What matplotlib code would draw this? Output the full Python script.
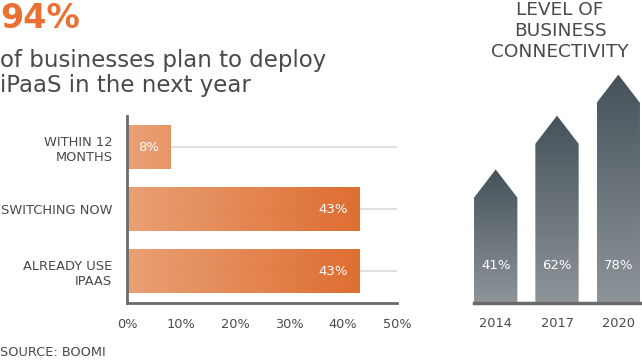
import matplotlib
matplotlib.use("Agg")
import matplotlib.pyplot as plt
import numpy as np
from matplotlib.colors import LinearSegmentedColormap
from matplotlib.patches import Polygon

# ---- data ----
headline = "94%"
subtitle = "of businesses plan to deploy\niPaaS in the next year"
bar_categories = ["ALREADY USE\nIPAAS", "SWITCHING NOW", "WITHIN 12\nMONTHS"]
bar_values = [43, 43, 8]
bar_ticks = [0, 10, 20, 30, 40, 50]
right_title = "LEVEL OF\nBUSINESS\nCONNECTIVITY"
years = ["2014", "2017", "2020"]
connectivity = [41, 62, 78]
source = "SOURCE: BOOMI"

TXT = "#4a4a4a"
ORANGE = "#EA7034"

fig = plt.figure(figsize=(6.42, 3.6), dpi=100)
fig.patch.set_facecolor("white")

# headline texts
fig.text(0.0, 1 - 27.5/360, headline, fontsize=24, fontweight="bold", color=ORANGE,
         ha="left", va="baseline")
fig.text(0.0, 1 - 73/360, subtitle, fontsize=16.5, color=TXT, ha="left", va="center",
         linespacing=1.12)
fig.text(0.0, 1 - 353/360, source, fontsize=9.3, color=TXT, ha="left", va="center")

# ---- left: horizontal bars ----
ax = fig.add_axes([127/642, (360-302.7)/360, 270/642, (302.7-116)/360])
ypos = np.arange(len(bar_categories))
cmap_o = LinearSegmentedColormap.from_list("o", ["#E99B6E", "#DD6626"])
vmax = max(bar_values)
for y in ypos:
    ax.axhline(y, color="#e0e0e0", lw=1.5, zorder=1)
bh = 0.70
for y, v in zip(ypos, bar_values):
    grad = np.linspace(0, v / vmax, 256).reshape(1, -1)
    ax.imshow(grad, extent=(0, v, y - bh/2, y + bh/2), aspect="auto", cmap=cmap_o,
              vmin=0, vmax=1, zorder=2, alpha=0.95, interpolation="bilinear")
    ax.text(v - 2.1, y, f"{v}%", color="white", fontsize=9.5, ha="right", va="center",
            zorder=4)
ax.set_xlim(0, 50)
ax.set_ylim(-0.51, 2.5)
ax.set_yticks(ypos)
ax.set_yticklabels(bar_categories, fontsize=9.4, color=TXT, linespacing=1.25)
ax.set_xticks(bar_ticks)
ax.set_xticklabels([f"{t}%" for t in bar_ticks], fontsize=9.3, color=TXT)
ax.tick_params(axis="both", length=0)
ax.tick_params(axis="x", pad=11)
ax.tick_params(axis="y", pad=10.5)
for s in ["top", "right"]:
    ax.spines[s].set_visible(False)
for s in ["left", "bottom"]:
    ax.spines[s].set_color("#6a6a6a")
    ax.spines[s].set_linewidth(2)
ax.set_facecolor("none")

# ---- right: arrow bars ----
ax2 = fig.add_axes([474/642, (360-302.7)/360, 166/642, (302.7-42.6)/360])
cmap_g = LinearSegmentedColormap.from_list("g", ["#8E9599", "#45525A"])
bw = 0.707
tip = 11.0
xpos = np.arange(len(years))
for x, v in zip(xpos, connectivity):
    poly = Polygon([(x - bw/2, 0), (x + bw/2, 0), (x + bw/2, v), (x, v + tip),
                    (x - bw/2, v)], closed=True, facecolor="none", edgecolor="none")
    ax2.add_patch(poly)
    grad = np.linspace(0, 1, 256).reshape(-1, 1)
    im = ax2.imshow(grad, extent=(x - bw/2, x + bw/2, 0, v + tip), origin="lower",
                    aspect="auto", cmap=cmap_g, zorder=2, interpolation="bilinear")
    im.set_clip_path(poly)
    ax2.text(x, 14.5, f"{v}%", color="white", fontsize=9.5, ha="center", va="center",
             zorder=4)
ax2.set_xlim(-0.354, 2.354)
ax2.set_ylim(0, 101.5)
ax2.set_xticks(xpos)
ax2.set_xticklabels(years, fontsize=9.3, color=TXT)
ax2.tick_params(axis="x", length=0, pad=10)
ax2.set_yticks([])
for s in ["top", "right", "left"]:
    ax2.spines[s].set_visible(False)
ax2.spines["bottom"].set_color("#6a6a6a")
ax2.spines["bottom"].set_linewidth(2.5)
ax2.set_facecolor("none")

fig.text(560/642, 1 - 31/360, right_title, fontsize=13.3, color=TXT, ha="center",
         va="center", linespacing=1.2)

fig.savefig("out.png", dpi=100, facecolor="white")
